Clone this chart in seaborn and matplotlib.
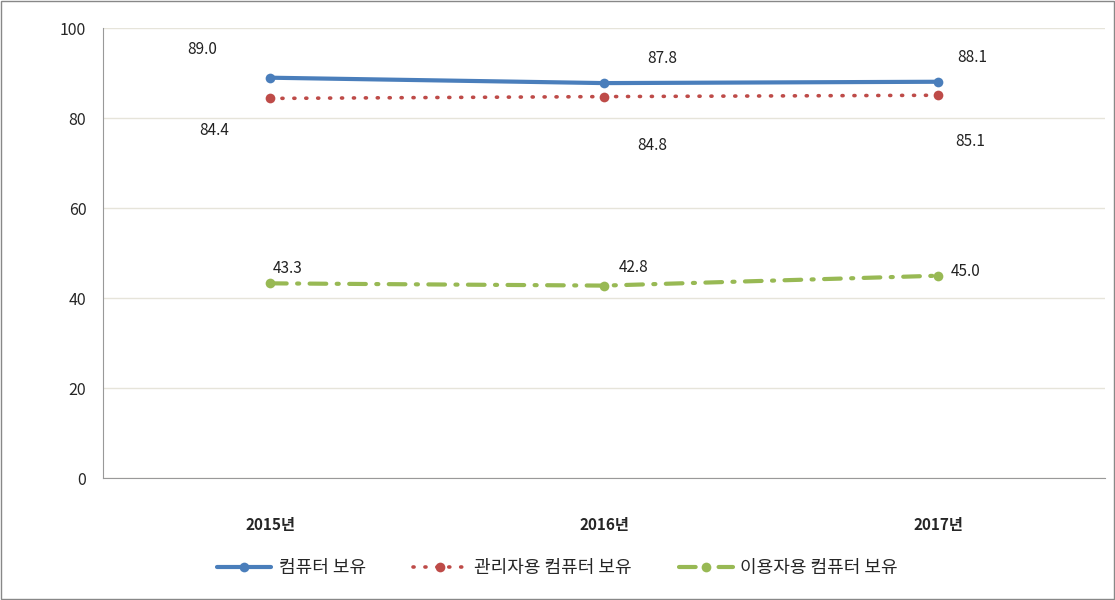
import matplotlib
matplotlib.use('Agg')
import matplotlib.pyplot as plt
import seaborn as sns
import pandas as pd

years = ['2015년', '2016년', '2017년']
series_names = ['컴퓨터 보유', '관리자용 컴퓨터 보유', '이용자용 컴퓨터 보유']
pc_own = [89.0, 87.8, 88.1]
admin_pc = [84.4, 84.8, 85.1]
user_pc = [43.3, 42.8, 45.0]

sns.set_style('white')
plt.rcParams['font.family'] = ['Noto Sans CJK KR', 'DejaVu Sans']

df = pd.DataFrame({'year': years * 3,
                   'series': [s for s in series_names for _ in years],
                   'value': pc_own + admin_pc + user_pc})

fig = plt.figure(figsize=(11.15, 6.0), dpi=100)
ax = fig.add_axes([0.0924, 0.203, 0.8986, 0.75])

colors = ['#4a7ebb', '#be4b48', '#98b954']
styles = ['-', (0, (0.3, 3.0)), (0, (4, 2.5, 0.5, 2.5))]
widths = [3.0, 2.6, 3.0]
for name, c, ls, lw in zip(series_names, colors, styles, widths):
    sub = df[df['series'] == name]
    sns.lineplot(data=sub, x='year', y='value', ax=ax, color=c, linestyle=ls,
                 linewidth=lw, marker='o', markersize=7, markeredgewidth=0,
                 dash_capstyle='round', label=name, sort=False)

# label offsets in pixels (dx, dy)
offsets = {
    '컴퓨터 보유': [(-68, 28), (58, 25), (34, 24)],
    '관리자용 컴퓨터 보유': [(-56, -32), (48, -49), (32, -46)],
    '이용자용 컴퓨터 보유': [(18, 15), (30, 18), (28, 4)],
}
for name, vals in zip(series_names, [pc_own, admin_pc, user_pc]):
    for i, v in enumerate(vals):
        dx, dy = offsets[name][i]
        ax.annotate(f'{v:.1f}', (i, v), xytext=(dx, dy), textcoords='offset pixels',
                    ha='center', va='center', fontsize=11, color='#222222')

ax.set_xlim(-0.5, 2.5)
ax.set_ylim(0, 100)
ax.set_yticks(range(0, 101, 20))
ax.set_xticks([-0.5, 0.5, 1.5, 2.5], minor=True)
ax.set_xticks([0, 1, 2])
ax.set_xticklabels(years, fontsize=11, fontweight='bold')
ax.tick_params(axis='x', which='major', length=0, pad=28)
ax.tick_params(axis='x', which='minor', length=6, color='#999999', direction='out')
ax.tick_params(axis='y', length=6, color='#999999', direction='out', labelsize=11.5, pad=6)
ax.grid(axis='y', color='#e6e4da', linewidth=1)
ax.set_axisbelow(True)
for s in ['top', 'right']:
    ax.spines[s].set_visible(False)
for s in ['left', 'bottom']:
    ax.spines[s].set_color('#999999')
ax.set_xlabel('')
ax.set_ylabel('')

handles, labels = ax.get_legend_handles_labels()
ax.get_legend().remove()
fig.legend(handles, labels, loc='center', bbox_to_anchor=(0.5, 0.053), ncol=3,
           frameon=False, fontsize=13, handlelength=3.0, handletextpad=0.4,
           columnspacing=2.6)

fig.patches.append(plt.Rectangle((0.001, 0.001), 0.998, 0.998, transform=fig.transFigure,
                                 fill=False, edgecolor='#888888', linewidth=1))
fig.savefig('out.png', dpi=100)
